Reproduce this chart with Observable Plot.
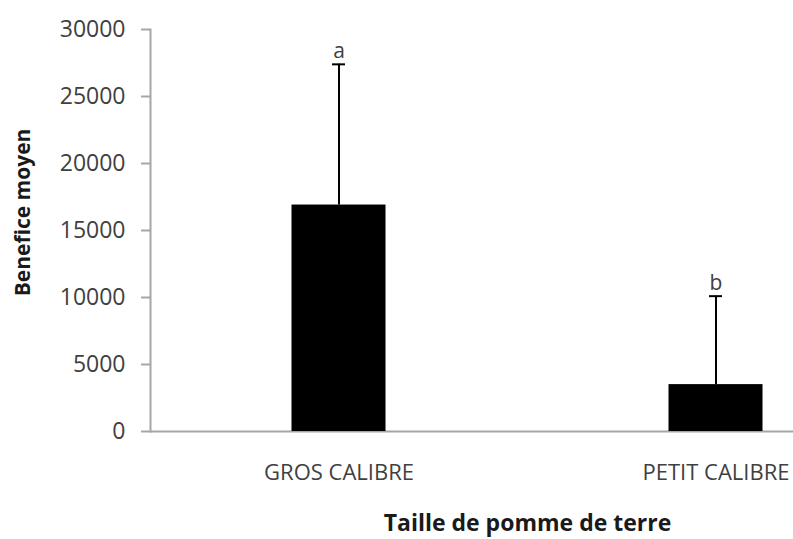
<!DOCTYPE html>
<html>
<head>
<meta charset="utf-8">
<script src="https://cdn.jsdelivr.net/npm/d3@7"></script>
<script src="https://cdn.jsdelivr.net/npm/@observablehq/plot@0.6"></script>
<style>
  body { margin: 0; background: #fff; overflow: hidden; }
</style>
</head>
<body>
<div id="chart"></div>
<script>
// Mean profit by potato size class, with error bars and group letters
const categories = ["GROS CALIBRE", "PETIT CALIBRE"];
const means = [16900, 3500];
const errorTops = [27400, 10100];
const groupLetters = ["a", "b"];
const yTicks = [0, 5000, 10000, 15000, 20000, 25000, 30000];

const rows = categories.map((c, i) => ({
  category: c,
  mean: means[i],
  top: errorTops[i],
  letter: groupLetters[i]
}));

const axisGrey = "#a6a6a6";
const textGrey = "#404040";

const chart = Plot.plot({
  width: 793,
  height: 539,
  marginLeft: 150,
  marginRight: -111,
  marginTop: 29,
  marginBottom: 108,
  style: { fontFamily: "Open Sans", fontSize: "22px", color: textGrey, background: "#fff" },
  x: { domain: categories, padding: 0 },
  y: { domain: [0, 30000] },
  marks: [
    Plot.frame({ anchor: "left", stroke: axisGrey, strokeWidth: 2 }),
    Plot.ruleY([0], { stroke: axisGrey, strokeWidth: 2 }),
    Plot.barY(rows, { x: "category", y: "mean", fill: "black", insetLeft: 141.5, insetRight: 141.5 }),
    Plot.ruleX(rows, { x: "category", y1: "mean", y2: "top", stroke: "black", strokeWidth: 2 }),
    Plot.tickY(rows, { x: "category", y: "top", stroke: "black", strokeWidth: 2, insetLeft: 182, insetRight: 182 }),
    Plot.text(rows, { x: "category", y: "top", text: "letter", dy: -13, fontSize: 21, fill: textGrey }),
    Plot.axisY({ ticks: yTicks, tickSize: 9, tickPadding: 16, fontSize: 23, stroke: axisGrey, strokeWidth: 2, label: null, tickFormat: d => String(d) }),
    Plot.axisX({ tickSize: 0, tickPadding: 33, label: null }),
    Plot.text(["Taille de pomme de terre"], { frameAnchor: "bottom", textAnchor: "middle", lineAnchor: "middle", dy: 92, fontWeight: "bold", fontSize: 23, fill: "#1a1a1a" }),
    Plot.text(["Benefice moyen"], { frameAnchor: "left", textAnchor: "middle", lineAnchor: "middle", rotate: -90, dx: -127, dy: -18, fontWeight: "bold", fontSize: 21, fill: "#1a1a1a" })
  ]
});

document.getElementById("chart").appendChild(chart);
</script>
</body>
</html>
